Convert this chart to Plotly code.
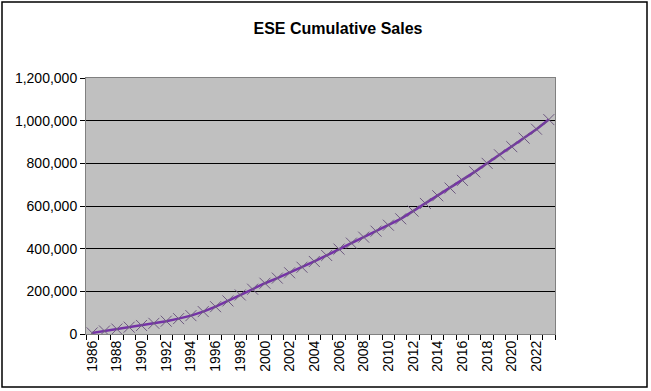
import plotly.graph_objects as go

years = list(range(1986, 2024))
cumulative_sales = [
    5000, 14000, 23000, 32000, 40000, 50000, 60000, 72000, 86000, 105000,
    128000, 155000, 183000, 210000, 238000, 262000, 287000, 313000, 340000, 368000,
    398000, 426000, 454000, 482000, 510000, 540000, 576000, 612000, 648000, 684000,
    720000, 760000, 800000, 840000, 878000, 918000, 960000, 1005000,
]
label_years = list(range(1986, 2024, 2))
y_ticks = [0, 200000, 400000, 600000, 800000, 1000000, 1200000]

fig = go.Figure()
fig.add_trace(go.Scatter(
    x=years, y=cumulative_sales, mode="lines+markers",
    line=dict(color="#7433A6", width=2.5),
    marker=dict(symbol="x-thin", size=11, line=dict(width=1, color="#6E5A80")),
    showlegend=False,
))

W, H = 651, 391
L, R, T, B = 86, 96, 78, 57
pw, ph = W - L - R, H - T - B

fig.update_layout(
    width=W, height=H,
    margin=dict(l=L, r=R, t=T, b=B, autoexpand=False),
    paper_bgcolor="white", plot_bgcolor="#C0C0C0",
    font=dict(family="Arial, Liberation Sans, sans-serif", size=14, color="black"),
    title=dict(text="<b>ESE Cumulative Sales</b>", x=338 / W, xref="container",
               xanchor="center", y=1 - 28 / H, yref="container", yanchor="middle",
               font=dict(size=16, color="black")),
    shapes=[dict(type="rect", xref="paper", yref="paper",
                 x0=(2 - L) / pw, x1=(647 - L) / pw,
                 y0=(H - B - 387) / ph, y1=(H - B - 2) / ph,
                 line=dict(color="black", width=1.5), fillcolor="rgba(0,0,0,0)", layer="below")],
)
fig.update_xaxes(
    range=[1985.5, 2023.5], tickvals=label_years, ticktext=[str(y) for y in label_years],
    tickangle=-90, ticks="", showgrid=False, zeroline=False, automargin=False,
    showline=True, linecolor="#808080", linewidth=1, mirror=True,
    minor=dict(tickvals=[y + 0.5 for y in range(1985, 2024)], ticks="outside",
               ticklen=5, tickcolor="black", showgrid=False),
    tickfont=dict(size=14),
)
fig.update_yaxes(
    range=[0, 1200000], tickvals=y_ticks, tickformat=",d", automargin=False,
    ticks="outside", ticklen=5, tickcolor="black",
    showgrid=True, gridcolor="black", gridwidth=1, zeroline=False,
    showline=True, linecolor="#808080", linewidth=1, mirror=True,
    tickfont=dict(size=14),
)
fig.write_html("out.html", config={"displayModeBar": False},
               post_script="document.body.style.margin='0';document.body.style.overflow='hidden';")
